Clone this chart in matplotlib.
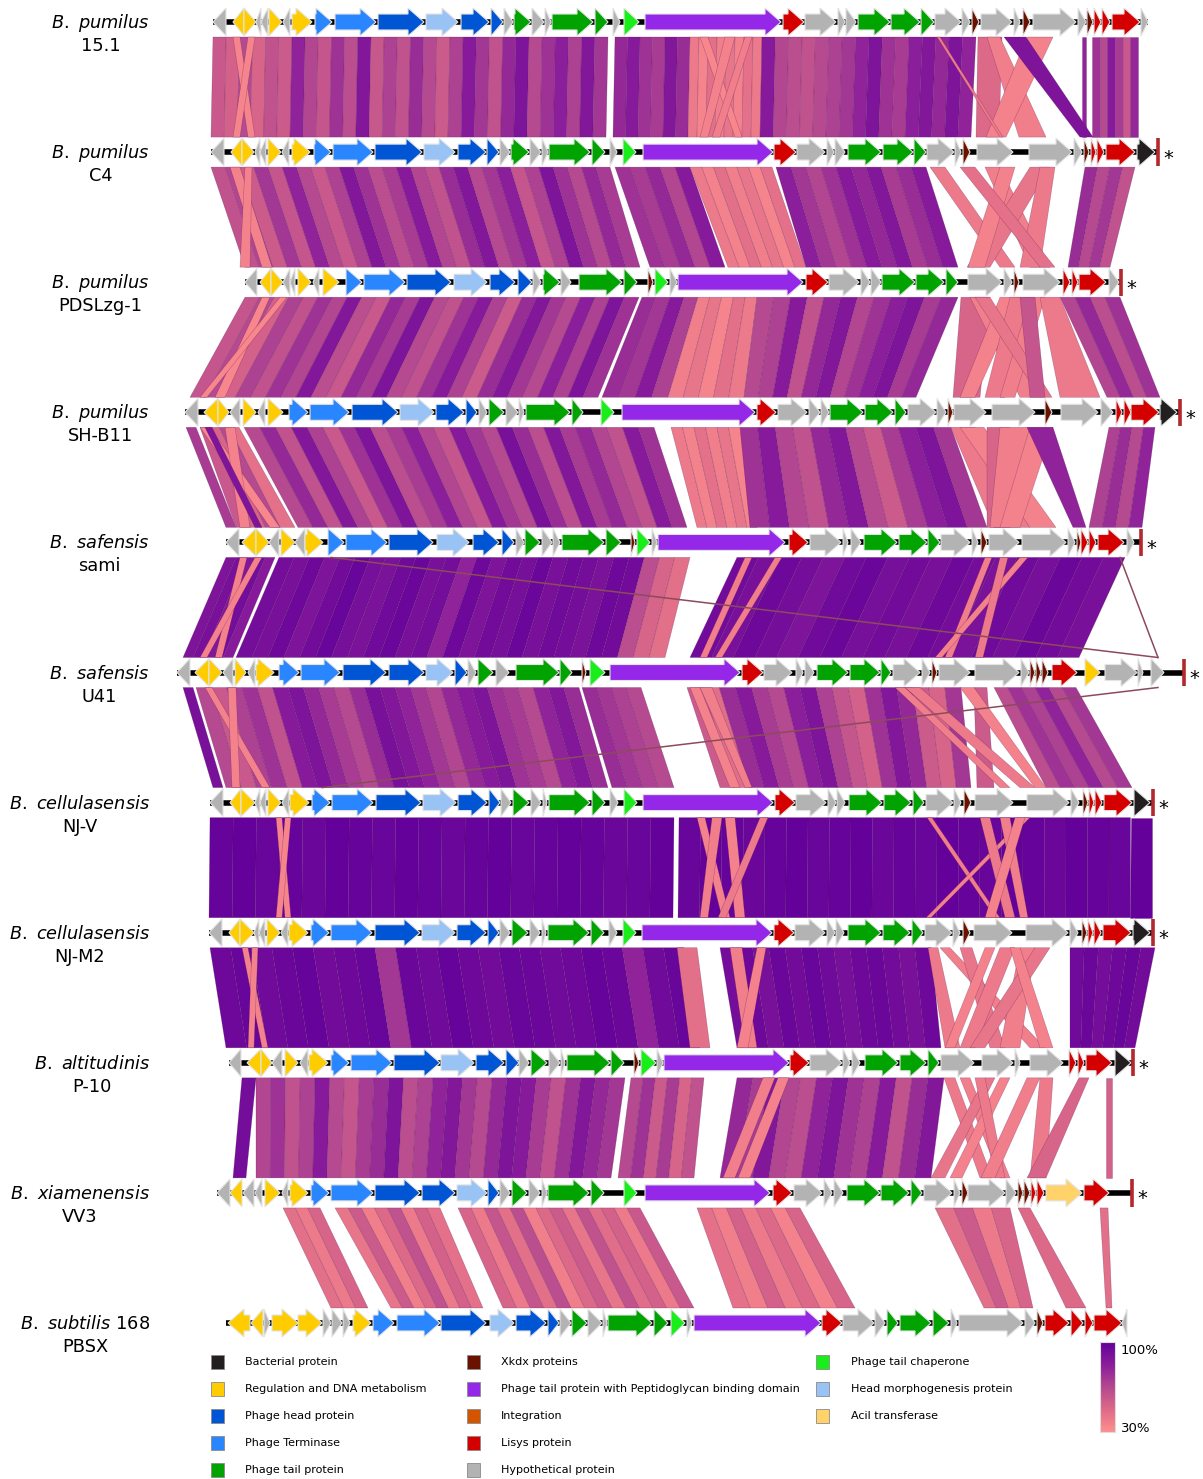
import matplotlib
matplotlib.use("Agg")
import matplotlib.pyplot as plt
from matplotlib.patches import Polygon, Rectangle
from matplotlib.colors import LinearSegmentedColormap, Normalize
import matplotlib.cm as cm

plt.rcParams['font.family'] = ['DejaVu Sans']
plt.rcParams['mathtext.fontset'] = 'custom'
plt.rcParams['mathtext.it'] = 'DejaVu Sans:italic'
plt.rcParams['mathtext.rm'] = 'DejaVu Sans'

# ---- genomes (top to bottom) ----
species = [r"$\it{B.\ pumilus}$", r"$\it{B.\ pumilus}$", r"$\it{B.\ pumilus}$", r"$\it{B.\ pumilus}$",
           r"$\it{B.\ safensis}$", r"$\it{B.\ safensis}$", r"$\it{B.\ cellulasensis}$",
           r"$\it{B.\ cellulasensis}$", r"$\it{B.\ altitudinis}$", r"$\it{B.\ xiamenensis}$",
           r"$\it{B.\ subtilis}$ 168"]
strains = ["15.1", "C4", "PDSLzg-1", "SH-B11", "sami", "U41", "NJ-V", "NJ-M2", "P-10", "VV3", "PBSX"]

# backbone start / end, and x of the red end bar (None = no bar)
backbone_start = [213, 211, 245, 185, 226, 177, 210, 209, 229, 217, 226]
backbone_end = [1148, 1158, 1121, 1180, 1141, 1184, 1153, 1153, 1133, 1132, 1127]
end_bar = [None, 1158, 1121, 1180, 1141, 1184, 1153, 1153, 1133, 1132, None]

# genes: (start, end, category, strand)
genes_151 = [(213,226,'h',-1),(233,244,'y',-1),(244,256,'y',1),(256,261,'h',-1),(261,268,'h',-1),(269,282,'y',1),
    (283,290,'h',-1),(292,312,'y',1),(315,332,'t',1),(335,376,'t',1),(378,424,'b',1),(426,458,'m',1),(461,489,'b',1),
    (491,503,'b',1),(504,513,'h',1),(514,531,'g',1),(532,544,'h',1),(545,551,'h',1),(552,593,'g',1),(595,608,'g',1),
    (613,620,'h',1),(624,639,'c',1),(645,781,'p',1),(783,804,'r',1),(805,836,'h',1),(838,845,'h',1),(846,856,'h',1),
    (858,890,'g',1),(891,920,'g',1),(921,934,'g',1),(935,961,'h',1),(962,970,'h',1),(972,979,'x',1),(981,1012,'h',1),
    (1014,1020,'h',1),(1023,1030,'x',1),(1033,1076,'h',1),(1078,1086,'h',1),(1087,1093,'x',1),(1094,1101,'r',1),
    (1102,1110,'r',1),(1112,1140,'r',1),(1141,1148,'h',1)]
genes_c4 = [(211,224,'h',-1),(231,242,'y',-1),(242,254,'y',1),(255,260,'h',-1),(260,266,'h',-1),(268,281,'y',1),
    (282,289,'h',-1),(292,310,'y',1),(314,331,'t',1),(333,373,'t',1),(375,422,'b',1),(424,455,'m',1),(458,486,'b',1),
    (487,499,'b',1),(500,510,'h',1),(511,529,'g',1),(530,541,'h',1),(542,548,'h',1),(549,590,'g',1),(592,605,'g',1),
    (610,617,'h',1),(623,636,'c',1),(643,773,'p',1),(774,796,'r',1),(797,825,'h',1),(827,834,'h',1),(835,845,'h',1),
    (848,881,'g',1),(883,913,'g',1),(914,926,'g',1),(927,954,'h',1),(955,961,'h',1),(963,970,'x',1),(977,1013,'h',1),
    (1029,1072,'h',1),(1074,1082,'h',1),(1084,1089,'x',1),(1091,1096,'r',1),(1097,1104,'r',1),(1106,1135,'r',1),
    (1137,1155,'k',1)]
genes_pdslzg = [(245,257,'h',-1),(260,271,'y',-1),(271,283,'y',1),(283,290,'h',-1),(290,295,'h',-1),(298,311,'y',1),
    (313,319,'h',-1),(323,339,'y',1),(346,362,'t',1),(364,405,'t',1),(407,451,'b',1),(454,487,'m',1),(490,515,'b',1),
    (518,532,'b',1),(533,541,'h',1),(543,560,'g',1),(561,571,'h',1),(579,622,'g',1),(624,637,'g',1),(648,653,'x',1),
    (655,668,'c',1),(670,677,'h',1),(678,803,'p',1),(806,828,'r',1),(829,859,'h',1),(861,870,'h',1),(871,881,'h',1),
    (882,915,'g',1),(916,944,'g',1),(946,958,'g',1),(968,1002,'h',1),(1004,1012,'h',1),(1014,1019,'x',1),
    (1023,1060,'h',1),(1063,1070,'r',1),(1072,1078,'r',1),(1079,1106,'r',1),(1109,1119,'h',1)]
genes_shb11 = [(185,198,'h',-1),(204,218,'y',-1),(218,229,'y',1),(230,240,'h',-1),(243,256,'y',1),(258,265,'h',-1),
    (268,283,'y',1),(289,308,'t',1),(310,349,'t',1),(352,398,'b',1),(400,434,'m',1),(436,464,'b',1),(466,477,'b',1),
    (479,487,'h',1),(489,504,'g',1),(506,518,'h',1),(519,524,'h',1),(526,570,'g',1),(572,583,'g',1),(601,614,'c',1),
    (622,755,'p',1),(757,776,'r',1),(778,807,'h',1),(809,820,'h',1),(821,829,'h',1),(830,863,'g',1),(865,893,'g',1),
    (895,906,'g',1),(908,936,'h',1),(937,946,'h',1),(948,953,'x',1),(954,986,'h',1),(992,1035,'h',1),(1045,1052,'x',1),
    (1061,1098,'h',1),(1101,1113,'h',1),(1116,1122,'r',1),(1124,1131,'r',1),(1131,1159,'r',1),(1160,1177,'k',1)]
genes_sami = [(226,239,'h',-1),(242,256,'y',-1),(256,269,'y',1),(269,279,'h',-1),(281,295,'y',1),(295,305,'h',-1),
    (305,323,'y',1),(328,344,'t',1),(346,387,'t',1),(389,433,'b',1),(437,469,'m',1),(473,499,'b',1),(502,514,'b',1),
    (516,524,'h',1),(525,540,'g',1),(542,552,'h',1),(553,560,'h',1),(562,604,'g',1),(606,621,'g',1),(631,635,'x',1),
    (637,650,'c',1),(652,657,'h',1),(658,785,'p',1),(789,808,'r',1),(810,841,'h',1),(843,848,'h',1),(851,861,'h',1),
    (864,897,'g',1),(899,927,'g',1),(928,940,'g',1),(941,970,'h',1),(972,978,'h',1),(981,987,'x',1),(989,1019,'h',1),
    (1022,1066,'h',1),(1068,1075,'h',1),(1077,1081,'x',1),(1081,1088,'r',1),(1089,1096,'r',1),(1098,1124,'r',1),
    (1127,1134,'h',1)]
genes_u41 = [(177,190,'h',-1),(195,209,'y',-1),(209,222,'y',1),(223,233,'h',-1),(235,246,'y',1),(248,255,'h',-1),
    (256,274,'y',1),(279,299,'t',1),(301,340,'t',1),(343,386,'b',1),(389,424,'b',1),(426,453,'m',1),(455,467,'b',1),
    (468,476,'h',1),(478,493,'g',1),(496,509,'h',1),(516,559,'g',1),(560,572,'g',1),(582,586,'x',1),(590,605,'c',1),
    (610,740,'p',1),(742,763,'r',1),(764,792,'h',1),(796,803,'h',1),(805,814,'h',1),(817,848,'g',1),(850,880,'g',1),
    (881,891,'g',1),(893,920,'h',1),(922,930,'h',1),(932,937,'x',1),(939,970,'h',1),(975,1019,'h',1),(1021,1029,'h',1),
    (1030,1035,'x',1),(1036,1041,'x',1),(1042,1048,'x',1),(1052,1077,'r',1),(1085,1100,'y',1),(1105,1137,'h',1),
    (1138,1143,'h',1),(1151,1164,'h',1)]
genes_njv = [(210,223,'h',-1),(230,241,'y',-1),(241,255,'y',1),(255,260,'h',-1),(260,266,'h',-1),(268,281,'y',1),
    (282,289,'h',-1),(290,309,'y',1),(312,330,'t',1),(332,373,'t',1),(376,421,'b',1),(423,456,'m',1),(458,487,'b',1),
    (489,500,'b',1),(501,511,'h',1),(513,529,'g',1),(531,541,'h',1),(543,547,'h',1),(549,590,'g',1),(592,605,'g',1),
    (610,618,'h',1),(624,637,'c',1),(643,773,'p',1),(775,795,'r',1),(796,826,'h',1),(828,836,'h',1),(837,845,'h',1),
    (849,882,'g',1),(884,911,'g',1),(913,924,'g',1),(926,953,'h',1),(954,961,'h',1),(964,971,'x',1),(975,1013,'h',1),
    (1027,1069,'h',1),(1071,1079,'h',1),(1083,1088,'x',1),(1089,1094,'r',1),(1095,1102,'r',1),(1104,1132,'r',1),
    (1134,1150,'k',1)]
genes_njm2 = [(209,222,'h',-1),(229,240,'y',-1),(240,254,'y',1),(254,259,'h',-1),(259,265,'h',-1),(267,280,'y',1),
    (281,288,'h',-1),(289,308,'y',1),(311,329,'t',1),(331,372,'t',1),(375,420,'b',1),(422,455,'m',1),(457,486,'b',1),
    (488,499,'b',1),(500,510,'h',1),(512,528,'g',1),(530,540,'h',1),(542,546,'h',1),(548,589,'g',1),(591,604,'g',1),
    (609,617,'h',1),(623,636,'c',1),(642,772,'p',1),(774,794,'r',1),(795,825,'h',1),(827,835,'h',1),(836,844,'h',1),
    (848,881,'g',1),(883,910,'g',1),(912,923,'g',1),(925,952,'h',1),(953,960,'h',1),(963,970,'x',1),(974,1012,'h',1),
    (1026,1068,'h',1),(1070,1078,'h',1),(1082,1087,'x',1),(1088,1093,'r',1),(1094,1101,'r',1),(1103,1131,'r',1),
    (1133,1150,'k',1)]
genes_p10 = [(229,241,'h',-1),(247,261,'y',-1),(261,272,'y',1),(272,282,'h',-1),(285,298,'y',1),(300,308,'h',-1),
    (309,328,'y',1),(331,349,'t',1),(351,392,'t',1),(394,440,'b',1),(441,474,'m',1),(476,504,'b',1),(506,519,'b',1),
    (519,529,'h',1),(531,547,'g',1),(549,560,'h',1),(561,565,'h',1),(567,610,'g',1),(611,624,'g',1),(634,639,'x',1),
    (641,656,'c',1),(657,663,'h',1),(664,789,'p',1),(790,809,'r',1),(810,842,'h',1),(843,850,'h',1),(852,860,'h',1),
    (865,898,'g',1),(900,926,'g',1),(928,939,'g',1),(941,974,'h',1),(982,1013,'h',1),(1015,1020,'h',1),
    (1030,1063,'h',1),(1069,1076,'r',1),(1078,1084,'r',1),(1086,1112,'r',1),(1115,1131,'k',1)]
genes_vv3 = [(217,230,'h',-1),(230,242,'y',-1),(243,254,'h',-1),(255,262,'h',-1),(265,280,'y',1),(282,288,'h',-1),
    (290,308,'y',1),(311,329,'t',1),(331,373,'t',1),(375,420,'b',1),(422,455,'b',1),(457,487,'m',1),(488,499,'b',1),
    (500,510,'h',1),(512,527,'g',1),(529,540,'h',1),(542,547,'h',1),(548,589,'g',1),(591,604,'g',1),(624,637,'c',1),
    (645,770,'p',1),(773,792,'r',1),(794,822,'h',1),(824,832,'h',1),(834,843,'h',1),(847,880,'g',1),(881,909,'g',1),
    (911,922,'g',1),(924,952,'h',1),(954,960,'h',1),(962,968,'x',1),(968,1005,'h',1),(1006,1016,'h',1),
    (1018,1023,'x',1),(1024,1030,'x',1),(1031,1036,'r',1),(1037,1044,'r',1),(1046,1082,'a',1),(1084,1109,'r',1)]
genes_pbsx = [(228,250,'y',-1),(251,263,'y',-1),(264,270,'h',1),(272,298,'y',1),(298,322,'y',1),(323,331,'h',1),
    (332,342,'h',1),(343,350,'h',1),(353,371,'y',1),(373,394,'t',1),(397,440,'t',1),(441,486,'b',1),(490,514,'m',1),
    (516,546,'b',1),(548,559,'b',1),(560,571,'h',1),(572,587,'g',1),(588,602,'h',1),(603,607,'h',1),(608,652,'g',1),
    (654,668,'g',1),(671,685,'c',1),(687,692,'h',1),(694,821,'p',1),(822,842,'r',1),(843,874,'h',1),(875,885,'h',1),
    (887,898,'g',1),(900,931,'g',1),(933,949,'g',1),(951,957,'h',1),(959,1023,'h',1),(1025,1035,'h',1),
    (1037,1043,'x',1),(1045,1069,'r',1),(1071,1083,'r',1),(1085,1093,'r',1),(1094,1122,'r',1),(1122,1127,'h',-1)]

# ---- homology links between neighbouring genomes ----
# (upper start, upper end, lower start, lower end, identities % of the stripes)
links_0 = [(213,608,211,606,[56,52,64,50,60,55,80,66,58,74,62,86,57,68,60,76,64,55,68,84,72,60,78,88,64,74,82,68,86,72]),
    (615,690,613,688,[78,84,74,70,86,76]), (690,762,688,760,[40,35,45,38,42,36,44,40]),
    (762,976,760,971,[84,66,62,60,64,68,72,80,88,74,70,82,86,78,88,80]),
    (1082,1086,1082,1086,[80]), (1092,1138,1092,1138,[74,64,84,70,56,78]),
    (233,240,248,255,[35]), (248,255,233,240,[35]), (700,708,735,742,[34]), (725,735,700,708,[36]),
    (745,752,712,720,[38]), (978,1002,976,999,[48]), (987,1000,1019,1046,[38]), (1027,1053,986,1006,[36]),
    (937,940,1000,1003,[40]), (1004,1026,1080,1093,[88])]
links_1 = [(211,610,245,640,[60,66,55,72,58,80,64,56,68,86,74,62,70,84,66,60,76,86,64,72,82,58,68,88,74,64,78,70]),
    (615,690,650,725,[74,70,78,66,84]), (690,772,728,806,[40,36,45,38,42,35,44]),
    (776,926,806,958,[82,72,66,74,84,78,86,70,76,84]), (1085,1135,1068,1110,[76,64,72,60]),
    (230,240,262,272,[36]), (245,252,240,250,[36]),
    (930,945,1000,1015,[40]), (985,1000,1030,1050,[38]), (1030,1050,967,990,[42]), (1000,1015,968,985,[36]),
    (1040,1055,1020,1040,[40]), (960,975,1040,1055,[44])]
links_2 = [(245,639,190,598,[58,64,52,68,60,74,66,86,62,56,78,70,88,64,60,74,84,68,55,76,86,72,64,82,68,88,74]),
    (642,698,602,668,[76,72,84,68]), (698,757,668,744,[38,42,35,45,40]),
    (757,958,744,916,[64,68,84,60,78,86,66,74,82,88,70,78]), (1060,1120,1107,1160,[66,78,62,74]),
    (262,270,215,225,[34]), (280,287,200,207,[34]),
    (961,990,953,980,[50]), (970,985,1020,1040,[38]), (1000,1020,960,975,[36]), (1010,1030,985,1005,[40]),
    (1030,1045,1000,1015,[38]), (975,990,1040,1052,[42]), (1040,1060,1060,1100,[40]), (1020,1035,1030,1045,[58])]
links_3 = [(186,196,226,236,[70]), (200,239,236,295,[56,50,64,44]),
    (244,654,298,687,[64,78,60,86,68,56,74,88,62,70,82,66,58,84,72,64,90,76,62,86,70,78,66,60,84,74]),
    (671,740,697,757,[40,36,44,38,42,35]), (740,951,750,987,[74,84,66,60,78,86,64,55,70,82,88,72]),
    (1109,1155,1089,1142,[68,76,64,80]),
    (200,210,270,280,[34]), (225,235,240,250,[36]), (205,212,255,262,[88]),
    (951,975,994,1030,[40]), (960,984,1030,1056,[36]), (987,1010,987,1000,[50]), (1000,1030,990,1010,[38]),
    (1030,1053,1000,1020,[36]), (1027,1053,1073,1086,[80])]
links_4 = [(226,236,183,193,[88]), (236,275,193,233,[90,86,92,84]),
    (279,690,236,665,[92,90,95,88,93,97,91,89,94,96,90,92,80,95,88,93,91,96,90,94,92,89,95,93,62,50,45]),
    (737,1125,690,1079,[93,90,95,92,88,94,96,91,93,90,95,92,89,94,91,96,93,90]),
    (240,247,215,222,[36]), (255,262,200,207,[36]), (745,752,700,707,[38]), (775,782,715,722,[38]),
    (985,992,945,952,[38]), (1020,1028,935,942,[36]), (1000,1008,975,983,[40])]
links_5 = [(183,193,213,223,[90]),
    (196,579,226,608,[64,56,68,74,60,84,88,78,70,64,76,90,86,80,72,66,78,84,88,74,70,64,80,86,76]),
    (582,641,612,674,[76,72,68,64]), (687,961,720,971,[55,46,76,84,70,64,82,88,68,58,52,74,86,78,55,50,72]),
    (974,987,977,994,[55]), (994,1076,1046,1132,[62,74,68,80,64,72]),
    (205,212,262,270,[36]), (228,236,232,240,[36]), (690,700,730,740,[36]), (700,712,745,752,[38]),
    (895,905,1000,1010,[38]), (905,920,1020,1035,[40]), (960,974,1035,1046,[36])]
links_6 = [(210,674,209,673,[98,99,97,98,96,99,98,97,99,98,96,98,99,97,98,99,98,96,97,99]),
    (679,1152,678,1152,[97,99,98,96,98,99,97,98,99,96,98,97,99,98,97,99,98,96,99,98,97,99]),
    (276,282,285,291,[35]), (285,291,276,282,[35]),
    (697,705,722,730,[36]), (712,722,700,708,[38]), (725,735,735,745,[36]), (760,768,718,726,[40]),
    (927,932,995,1000,[38]), (1024,1030,926,931,[36]), (980,990,1005,1015,[40]), (1000,1010,1020,1028,[38]),
    (1015,1025,985,995,[36])]
links_7 = [(210,684,226,700,[95,97,94,96,98,93,95,97,72,96,94,98,95,93,97,96,94,95,98,96,80,94,97]),
    (677,697,690,710,[45]), (720,931,737,941,[92,95,90,96,93,97,94,91,95,96,93,90,95]),
    (1070,1155,1070,1135,[94,96,92,95,97,93]),
    (242,248,262,268,[36]), (252,258,248,254,[36]), (730,742,745,757,[38]), (757,766,737,748,[36]),
    (928,938,945,960,[40]), (940,950,1030,1045,[38]), (960,972,990,1005,[42]), (985,995,945,955,[36]),
    (1000,1015,960,975,[40]), (1020,1035,1000,1020,[38]), (1035,1050,970,985,[42]), (1010,1020,1040,1053,[36])]
links_8 = [(242,256,233,246,[92]),
    (256,625,256,611,[66,74,60,68,84,64,58,70,76,88,62,68,80,86,72,64,78,88,84,70,60,74,86,78,72]),
    (631,704,618,694,[64,74,55,70,50,60]), (737,944,720,931,[78,70,86,66,62,80,88,74,68,84,60,76,86]),
    (763,775,723,735,[38]), (778,789,738,750,[36]),
    (944,955,980,992,[40]), (960,970,1000,1010,[38]), (985,995,931,945,[42]), (1000,1010,950,962,[36]),
    (975,985,995,1005,[40]), (1027,1040,981,995,[38]), (1040,1053,1030,1046,[40]), (1079,1089,1027,1046,[50]),
    (1106,1112,1106,1112,[52])]
links_9 = [(283,320,331,368,[45,40,50]), (335,440,391,483,[42,55,38,48,60,40,52,44]),
    (458,640,503,694,[50,40,58,45,62,38,48,55,42,60,46,52,40,56]), (697,800,733,855,[44,38,52,40,48,36,50]),
    (935,1010,984,1033,[45,55,40,50]), (1018,1030,1066,1086,[48]), (1100,1108,1106,1112,[45])]

# very thin long-range hits: (pair, upper x, lower x)
thin_hits = [(4, 331, 1158), (4, 1120, 1158), (5, 1158, 322)]

legend_cols = [
    [('k', 'Bacterial protein'), ('y', 'Regulation and DNA metabolism'), ('b', 'Phage head protein'),
     ('t', 'Phage Terminase'), ('g', 'Phage tail protein')],
    [('x', 'Xkdx proteins'), ('p', 'Phage tail protein with Peptidoglycan binding domain'),
     ('o', 'Integration'), ('r', 'Lisys protein'), ('h', 'Hypothetical protein')],
    [('c', 'Phage tail chaperone'), ('m', 'Head morphogenesis protein'), ('a', 'Acil transferase')],
]

cat_colors = {'k': '#231f20', 'y': '#ffcc00', 'b': '#0055d4', 't': '#2a86ff', 'g': '#00a300',
              'x': '#6b1100', 'p': '#9427e8', 'o': '#d45500', 'r': '#d40000', 'h': '#b3b3b3',
              'c': '#1aee1a', 'm': '#99c2f5', 'a': '#ffd36a'}

genomes = [genes_151, genes_c4, genes_pdslzg, genes_shb11, genes_sami, genes_u41,
           genes_njv, genes_njm2, genes_p10, genes_vv3, genes_pbsx]
links = [links_0, links_1, links_2, links_3, links_4, links_5, links_6, links_7, links_8, links_9]

ident_cmap = LinearSegmentedColormap.from_list(
    'ident', ['#ff8e8e', '#dd6a88', '#b44890', '#8a1d9a', '#62009a'])
norm = Normalize(30, 100)

W, H = 1203, 1479
ROW = 130.1      # pixels between tracks
Y0 = 22          # pixel y of the first track
HH = 14 / ROW    # arrow head half height
BH = 8 / ROW     # arrow body half height
GAP = 15 / ROW   # space between track and link area
HEAD = 16

fig = plt.figure(figsize=(W / 100, H / 100), dpi=100)
ax = fig.add_axes([0, 0, 1, 1])
ax.set_xlim(0, W)
ax.set_ylim((H - Y0) / ROW, -Y0 / ROW)
ax.axis('off')


def fx(px):
    return px / W


def fy(py):
    return 1 - py / H


# links
for r, pair in enumerate(links):
    ya, yb = r + GAP, r + 1 - GAP
    for a0, a1, b0, b1, ids in pair:
        n = len(ids)
        for k, v in enumerate(ids):
            f0, f1 = k / n, (k + 1) / n
            pts = [(a0 + (a1 - a0) * f0, ya), (a0 + (a1 - a0) * f1, ya),
                   (b0 + (b1 - b0) * f1, yb), (b0 + (b1 - b0) * f0, yb)]
            ax.add_patch(Polygon(pts, closed=True, facecolor=ident_cmap(norm(v)),
                                 edgecolor=(0.3, 0.05, 0.3, 0.35), lw=0.4, zorder=1))

for r, xa, xb in thin_hits:
    ax.plot([xa, xb], [r + GAP, r + 1 - GAP], color='#8c4a5c', lw=1.1, zorder=1.5)

# tracks
for i, genes in enumerate(genomes):
    ax.plot([backbone_start[i], backbone_end[i]], [i, i], color='black', lw=4,
            solid_capstyle='butt', zorder=2)
    for s, e, cat, strand in genes:
        L = e - s
        head = min(L, HEAD)
        if strand > 0:
            base, tip, neck = s, e, e - head
        else:
            base, tip, neck = e, s, s + head
        if head >= L:
            pts = [(base, i - HH), (tip, i), (base, i + HH)]
        else:
            pts = [(base, i - BH), (neck, i - BH), (neck, i - HH), (tip, i),
                   (neck, i + HH), (neck, i + BH), (base, i + BH)]
        ax.add_patch(Polygon(pts, closed=True, facecolor=cat_colors[cat],
                             edgecolor='#e4e4e4', lw=0.8, zorder=3))
    if end_bar[i] is not None:
        ax.plot([end_bar[i], end_bar[i]], [i - 0.105, i + 0.105], color='#b3282d', lw=2.6,
                solid_capstyle='butt', zorder=4)
        ax.text(end_bar[i] + 5, i + 6 / ROW, '*', fontsize=14, ha='left', va='center', zorder=4)

# genome labels
renderer = fig.canvas.get_renderer()
for i in range(len(genomes)):
    t1 = ax.text(150, i + 1 / ROW, species[i], fontsize=12.8, ha='right', va='center')
    bb = t1.get_window_extent(renderer)
    cx = (bb.x0 + bb.x1) / 2
    ax.text(cx, i + 24 / ROW, strains[i], fontsize=12.8, ha='center', va='center')

# legend
col_box_x = [211, 467, 816]
col_text_x = [245, 501, 851]
for c, col in enumerate(legend_cols):
    for k, (cat, label) in enumerate(col):
        y = 1362 + k * 27
        fig.patches.append(Rectangle((fx(col_box_x[c]), fy(y + 7)), 13 / W, 14 / H,
                                     transform=fig.transFigure, facecolor=cat_colors[cat],
                                     edgecolor='#8a8a8a', lw=0.6))
        fig.text(fx(col_text_x[c]), fy(y), label, fontsize=8, ha='left', va='center')

# identity colour bar
cax = fig.add_axes([fx(1100), fy(1432), 15 / W, 90 / H])
cb = fig.colorbar(cm.ScalarMappable(norm=norm, cmap=ident_cmap), cax=cax, ticks=[])
cb.outline.set_edgecolor('#dddddd')
fig.text(fx(1121), fy(1350), '100%', fontsize=9.5, ha='left', va='center')
fig.text(fx(1121), fy(1428), '30%', fontsize=9.5, ha='left', va='center')

fig.savefig('out.png', dpi=100)
